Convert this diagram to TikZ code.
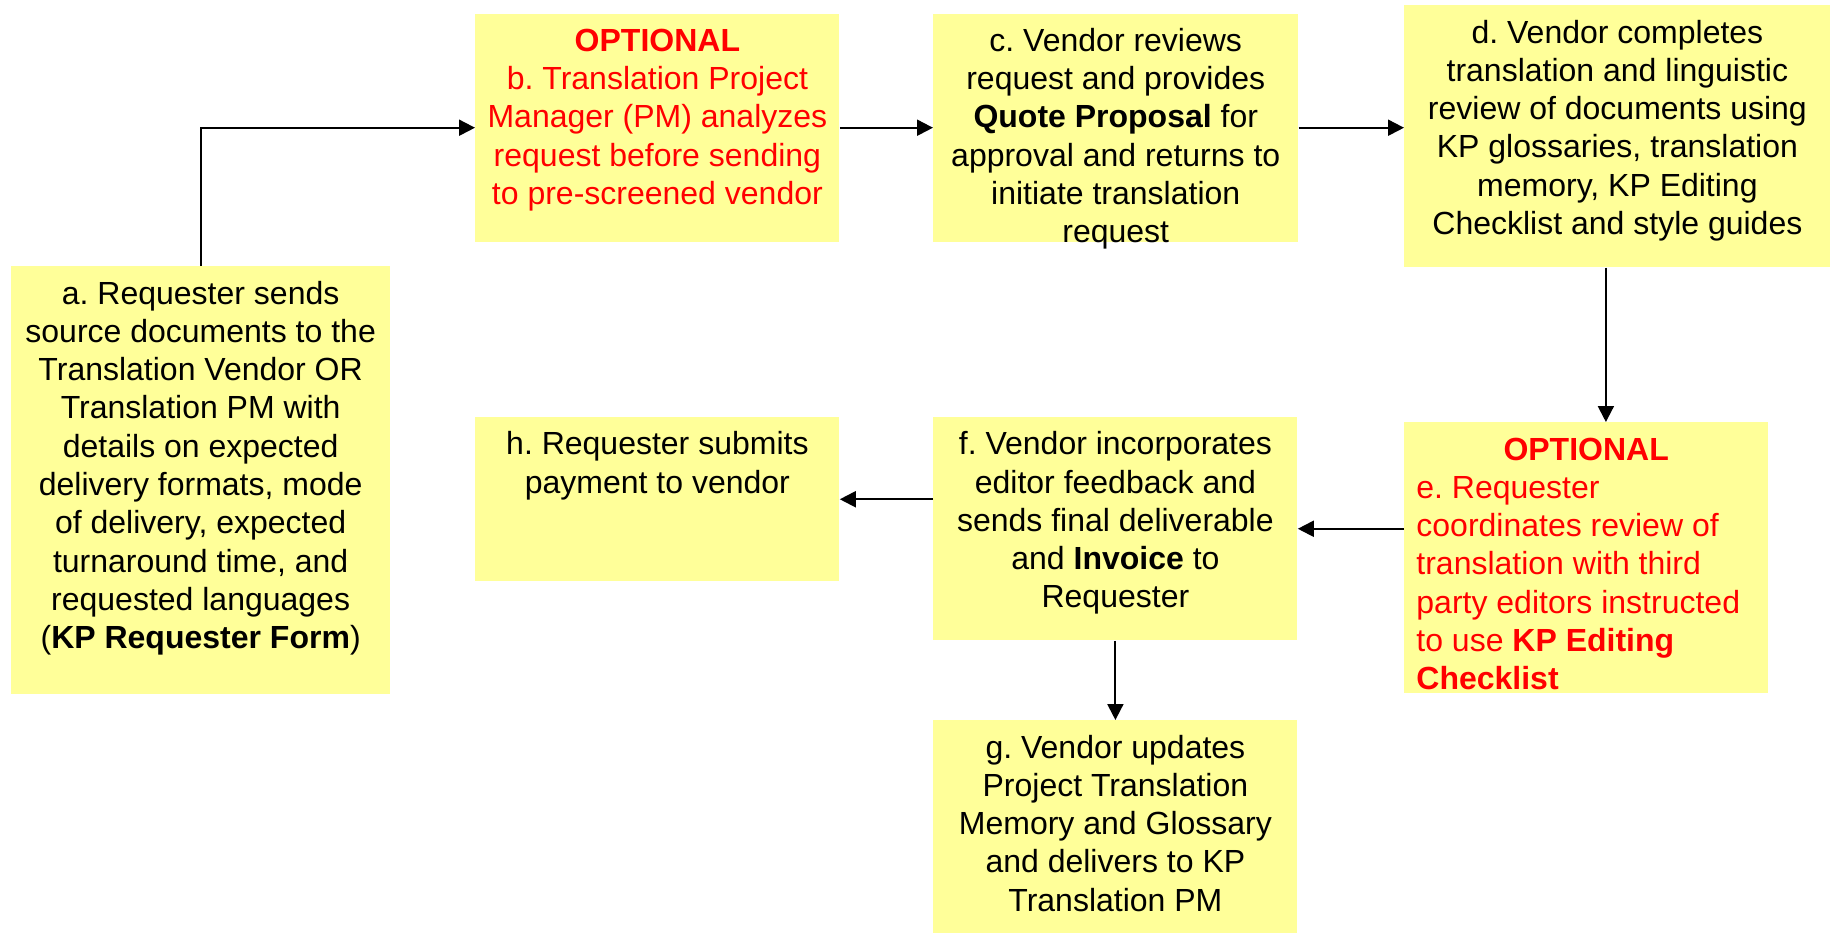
\documentclass[tikz,border=0pt]{standalone}
\usepackage{fontspec}
\setmainfont{Liberation Sans}
\frenchspacing
\definecolor{stepYellow}{RGB}{255,255,153}
\definecolor{optionRed}{RGB}{255,0,0}
\usetikzlibrary{arrows.meta,calc}
% text of one box: width, height, lines (top aligned)
\newcommand{\stepText}[3]{\parbox[c][#2][t]{#1}{\centering\vspace*{5.4pt}\strut#3}}

\begin{document}
\begin{tikzpicture}[x=0.5pt,y=-0.5pt,
                stepbox/.style={fill=stepYellow,inner sep=0pt,anchor=north west,
                              font=\fontsize{16pt}{19.15pt}\selectfont},
                flow/.style={-{Triangle[length=8pt,width=8pt]},line width=1pt}
            ]
                \useasboundingbox (0,0) rectangle (1830,933);
                \node[stepbox] (a) at (10.5,266) {\stepText{189.75pt}{214pt}{%
                    a. Requester sends\\ source documents to the\\ Translation Vendor OR\\
                    Translation PM with\\ details on expected\\ delivery formats, mode\\
                    of delivery, expected\\ turnaround time, and\\ requested languages\\
                    (\textbf{KP Requester Form})}};
                \node[stepbox] (b) at (475,13.3) {\stepText{182pt}{114pt}{\color{optionRed}%
                    \textbf{OPTIONAL}\\ b. Translation Project\\ Manager (PM) analyzes\\
                    request before sending\\ to pre-screened vendor}};
                \node[stepbox] (c) at (933,13.3) {\stepText{182.35pt}{114pt}{%
                    c. Vendor reviews\\ request and provides\\ \textbf{Quote Proposal} for\\
                    approval and returns to\\ initiate translation\\ request}};
                \node[stepbox] (d) at (1404,5) {\stepText{213pt}{130.85pt}{%
                    d. Vendor completes\\ translation and linguistic\\ review of documents using\\
                    KP glossaries, translation\\ memory, KP Editing\\ Checklist and style guides}};
                \node[stepbox] (e) at (1404,422) {\parbox[c][135.35pt][t]{181.75pt}{\color{optionRed}%
                    \vspace*{5.4pt}{\centering\strut\textbf{OPTIONAL}\par}%
                    \raggedright\leftskip=6pt\relax
                    e. Requester\\ coordinates review of\\ translation with third\\
                    party editors instructed\\ to use \textbf{KP Editing}\\ \textbf{Checklist}}};
                \node[stepbox] (f) at (933,416.7) {\stepText{182pt}{111.65pt}{%
                    f. Vendor incorporates\\ editor feedback and\\ sends final deliverable\\
                    and \textbf{Invoice} to\\ Requester}};
                \node[stepbox] (g) at (933,720) {\stepText{182pt}{106.5pt}{%
                    g. Vendor updates\\ Project Translation\\ Memory and Glossary\\
                    and delivers to KP\\ Translation PM}};
                \node[stepbox] (h) at (475,416.7) {\stepText{182pt}{82.15pt}{%
                    h. Requester submits\\ payment to vendor}};

                \draw[flow] (a.north) |- (b.west);
                \draw[flow] (b.east) -- (c.west);
                \draw[flow] (c.east) -- (c.east -| d.west);
                \coordinate (dOut) at ($(d.south west)!0.473!(d.south east)$);
                \draw[flow] (dOut) -- (dOut |- e.north);
                \draw[flow] (f.east -| e.west) -- (f.east);
                \draw[flow] (h.east -| f.west) -- (h.east);
                \draw[flow] (f.south) -- (g.north);
            \end{tikzpicture}
\end{document}
